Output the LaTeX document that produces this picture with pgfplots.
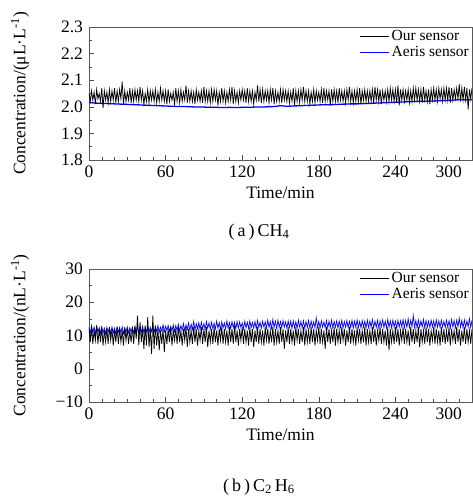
\documentclass[border=0pt]{standalone}
\usepackage{pgfplots}
\usepackage{pgfplotstable}
\pgfplotsset{compat=1.18}
\usepackage{fontspec}
\setmainfont{Liberation Serif}

\pgfplotstableread[row sep=\\]{
x y\\
0 2.05\\ 1 2.02\\ 2 2.06\\ 3 2.025\\ 4 2.055\\ 5 2.01\\ 6 2.065\\ 7 2.03\\ 8 2.05\\ 9 2.02\\
10 2.07\\ 11 1.995\\ 12 2.06\\ 13 2.025\\ 14 2.055\\ 15 2.015\\ 16 2.065\\ 17 2.02\\ 18 2.06\\ 19 2.025\\
20 2.07\\ 21 2.015\\ 22 2.06\\ 23 2.02\\ 24 2.065\\ 25 2.03\\ 26 2.095\\ 27 2.01\\ 28 2.06\\ 29 2.02\\
30 2.055\\ 31 2.025\\ 32 2.07\\ 33 2.015\\ 34 2.06\\ 35 2.02\\ 36 2.065\\ 37 2.025\\ 38 2.06\\ 39 2.02\\
40 2.075\\ 41 2.025\\ 42 2.06\\ 43 2.01\\ 44 2.05\\ 45 2.02\\ 46 2.065\\ 47 2.015\\ 48 2.06\\ 49 2.025\\
50 2.06\\ 51 2.02\\ 52 2.065\\ 53 2.015\\ 54 2.055\\ 55 2.02\\ 56 2.07\\ 57 2.025\\ 58 2.06\\ 59 2.02\\
60 2.06\\ 61 2.01\\ 62 2.065\\ 63 2.02\\ 64 2.05\\ 65 2.025\\ 66 2.055\\ 67 2.005\\ 68 2.07\\ 69 2.02\\
70 2.06\\ 71 2.015\\ 72 2.065\\ 73 2.02\\ 74 2.055\\ 75 2.025\\ 76 2.08\\ 77 2.015\\ 78 2.06\\ 79 2.02\\
80 2.06\\ 81 2.02\\ 82 2.055\\ 83 2.01\\ 84 2.065\\ 85 2.025\\ 86 2.055\\ 87 2.02\\ 88 2.06\\ 89 2.015\\
90 2.075\\ 91 2.02\\ 92 2.06\\ 93 2.02\\ 94 2.06\\ 95 2.015\\ 96 2.065\\ 97 2.02\\ 98 2.065\\ 99 2.025\\
100 2.06\\ 101 2.005\\ 102 2.055\\ 103 2.02\\ 104 2.07\\ 105 2.02\\ 106 2.06\\ 107 2.015\\ 108 2.055\\ 109 2.02\\
110 2.065\\ 111 2.025\\ 112 2.075\\ 113 2.01\\ 114 2.06\\ 115 2.02\\ 116 2.055\\ 117 2.015\\ 118 2.06\\ 119 2.025\\
120 2.065\\ 121 2.025\\ 122 2.06\\ 123 2.015\\ 124 2.07\\ 125 2.02\\ 126 2.06\\ 127 2.02\\ 128 2.06\\ 129 2.01\\
130 2.055\\ 131 2.025\\ 132 2.08\\ 133 2.02\\ 134 2.065\\ 135 2.015\\ 136 2.065\\ 137 2.02\\ 138 2.06\\ 139 2.025\\
140 2.06\\ 141 2.015\\ 142 2.065\\ 143 2.025\\ 144 2.07\\ 145 2.01\\ 146 2.06\\ 147 2.02\\ 148 2.055\\ 149 2.02\\
150 2.065\\ 151 2.015\\ 152 2.065\\ 153 2.025\\ 154 2.06\\ 155 2.02\\ 156 2.06\\ 157 2.015\\ 158 2.055\\ 159 2.02\\
160 2.07\\ 161 2.005\\ 162 2.06\\ 163 2.02\\ 164 2.06\\ 165 2.015\\ 166 2.065\\ 167 2.025\\ 168 2.075\\ 169 2.02\\
170 2.06\\ 171 2.02\\ 172 2.06\\ 173 2.01\\ 174 2.055\\ 175 2.02\\ 176 2.065\\ 177 2.015\\ 178 2.06\\ 179 2.025\\
180 2.055\\ 181 2.02\\ 182 2.065\\ 183 2.015\\ 184 2.07\\ 185 2.02\\ 186 2.06\\ 187 2.025\\ 188 2.06\\ 189 2.005\\
190 2.065\\ 191 2.02\\ 192 2.065\\ 193 2.02\\ 194 2.06\\ 195 2.015\\ 196 2.07\\ 197 2.025\\ 198 2.06\\ 199 2.02\\
200 2.06\\ 201 2.015\\ 202 2.065\\ 203 2.025\\ 204 2.075\\ 205 2.02\\ 206 2.06\\ 207 2.015\\ 208 2.06\\ 209 2.02\\
210 2.065\\ 211 2.02\\ 212 2.07\\ 213 2.01\\ 214 2.06\\ 215 2.025\\ 216 2.065\\ 217 2.02\\ 218 2.06\\ 219 2.02\\
220 2.06\\ 221 2.02\\ 222 2.065\\ 223 2.015\\ 224 2.075\\ 225 2.025\\ 226 2.065\\ 227 2.02\\ 228 2.065\\ 229 2.01\\
230 2.06\\ 231 2.025\\ 232 2.06\\ 233 2.02\\ 234 2.065\\ 235 2.02\\ 236 2.07\\ 237 2.025\\ 238 2.065\\ 239 2.02\\
240 2.065\\ 241 2.015\\ 242 2.08\\ 243 2.005\\ 244 2.065\\ 245 2.025\\ 246 2.065\\ 247 2.02\\ 248 2.06\\ 249 2.025\\
250 2.065\\ 251 2.015\\ 252 2.06\\ 253 2.02\\ 254 2.07\\ 255 2.025\\ 256 2.07\\ 257 2.025\\ 258 2.065\\ 259 2.02\\
260 2.065\\ 261 2.015\\ 262 2.075\\ 263 2.025\\ 264 2.06\\ 265 2.02\\ 266 2.065\\ 267 2.01\\ 268 2.065\\ 269 2.025\\
270 2.07\\ 271 2.025\\ 272 2.065\\ 273 2.02\\ 274 2.07\\ 275 2.03\\ 276 2.065\\ 277 2.02\\ 278 2.07\\ 279 2.025\\
280 2.07\\ 281 2.025\\ 282 2.075\\ 283 2.015\\ 284 2.07\\ 285 2.025\\ 286 2.065\\ 287 2.03\\ 288 2.07\\ 289 2.03\\
290 2.085\\ 291 2.02\\ 292 2.07\\ 293 2.025\\ 294 2.075\\ 295 2.025\\ 296 2.07\\ 297 1.99\\ 298 2.065\\ 299 2.03\\
300 2.07\\
}\chblack

\pgfplotstableread[row sep=\\]{
x y\\
0 2.016\\ 5 2.014\\ 10 2.013\\ 15 2.012\\ 20 2.011\\ 25 2.010\\ 30 2.009\\ 35 2.008\\ 40 2.007\\ 45 2.006\\
50 2.005\\ 55 2.004\\ 60 2.003\\ 65 2.002\\ 70 2.001\\ 75 2.001\\ 80 2.000\\ 85 1.999\\ 90 1.999\\ 95 1.998\\
100 1.998\\ 105 1.997\\ 110 1.998\\ 115 1.997\\ 120 1.998\\ 125 1.998\\ 130 1.999\\ 135 1.999\\ 140 2.000\\ 145 2.001\\
150 2.004\\ 155 2.002\\ 160 2.003\\ 165 2.004\\ 170 2.005\\ 175 2.006\\ 180 2.007\\ 185 2.008\\ 190 2.008\\ 195 2.009\\
200 2.010\\ 205 2.011\\ 210 2.011\\ 215 2.012\\ 220 2.013\\ 225 2.014\\ 230 2.015\\ 235 2.016\\ 240 2.017\\ 245 2.018\\
250 2.019\\ 255 2.020\\ 260 2.021\\ 265 2.021\\ 270 2.022\\ 275 2.023\\ 280 2.024\\ 285 2.025\\ 290 2.027\\ 295 2.026\\
300 2.027\\
}\chblue

\pgfplotstableread[row sep=\\]{
x y\\
0 12\\ 1 8\\ 2 12.5\\ 3 7.5\\ 4 11.5\\ 5 8.5\\ 6 13\\ 7 7.5\\ 8 12\\ 9 8\\
10 12.5\\ 11 7\\ 12 11.5\\ 13 8\\ 14 12\\ 15 7.5\\ 16 12.5\\ 17 8.5\\ 18 12\\ 19 7\\
20 11.5\\ 21 8\\ 22 12.5\\ 23 7.5\\ 24 12\\ 25 8\\ 26 11.5\\ 27 7\\ 28 12.5\\ 29 8.5\\
30 12\\ 31 7.5\\ 32 11.5\\ 33 8\\ 34 12.5\\ 35 7.5\\ 36 13\\ 37 9\\ 38 16\\ 39 7\\
40 14\\ 41 8\\ 42 12\\ 43 6\\ 44 13\\ 45 7\\ 46 15.5\\ 47 6.5\\ 48 12\\ 49 4.5\\
50 16\\ 51 6\\ 52 13\\ 53 7\\ 54 12\\ 55 5.5\\ 56 11.5\\ 57 7.5\\ 58 12\\ 59 5\\
60 11.5\\ 61 7.5\\ 62 12\\ 63 8\\ 64 12.5\\ 65 7\\ 66 11.5\\ 67 8.5\\ 68 12\\ 69 7.5\\
70 12.5\\ 71 8\\ 72 11.5\\ 73 7\\ 74 12\\ 75 8.5\\ 76 12.5\\ 77 6.5\\ 78 12\\ 79 8\\
80 11.5\\ 81 7.5\\ 82 12.5\\ 83 8\\ 84 12\\ 85 7\\ 86 11.5\\ 87 8.5\\ 88 12.5\\ 89 7.5\\
90 12\\ 91 8\\ 92 12.5\\ 93 6.5\\ 94 11.5\\ 95 8\\ 96 12\\ 97 7.5\\ 98 12.5\\ 99 8\\
100 11.5\\ 101 7\\ 102 12\\ 103 8.5\\ 104 12.5\\ 105 7.5\\ 106 12\\ 107 8\\ 108 11.5\\ 109 7\\
110 12.5\\ 111 8\\ 112 12\\ 113 7.5\\ 114 13\\ 115 8\\ 116 11.5\\ 117 7\\ 118 12\\ 119 8.5\\
120 12.5\\ 121 7.5\\ 122 12\\ 123 8\\ 124 11.5\\ 125 7\\ 126 12.5\\ 127 8\\ 128 12\\ 129 6.5\\
130 11.5\\ 131 8\\ 132 12.5\\ 133 7.5\\ 134 12\\ 135 8\\ 136 11.5\\ 137 7\\ 138 12.5\\ 139 8.5\\
140 12\\ 141 7.5\\ 142 11.5\\ 143 8\\ 144 12.5\\ 145 7\\ 146 12\\ 147 8\\ 148 11.5\\ 149 7.5\\
150 12.5\\ 151 8\\ 152 12\\ 153 6\\ 154 11.5\\ 155 8\\ 156 12.5\\ 157 7.5\\ 158 12\\ 159 8\\
160 11.5\\ 161 7\\ 162 12.5\\ 163 8.5\\ 164 12\\ 165 7.5\\ 166 11.5\\ 167 8\\ 168 12.5\\ 169 7\\
170 12\\ 171 8\\ 172 11.5\\ 173 7.5\\ 174 12.5\\ 175 8\\ 176 12\\ 177 7\\ 178 11.5\\ 179 8.5\\
180 12.5\\ 181 7.5\\ 182 12\\ 183 8\\ 184 11.5\\ 185 6\\ 186 12.5\\ 187 8\\ 188 12\\ 189 7.5\\
190 11.5\\ 191 8\\ 192 12.5\\ 193 7\\ 194 12\\ 195 8\\ 196 11.5\\ 197 7.5\\ 198 12.5\\ 199 8.5\\
200 12\\ 201 7\\ 202 11.5\\ 203 8\\ 204 12.5\\ 205 7.5\\ 206 12\\ 207 8\\ 208 11.5\\ 209 7\\
210 12.5\\ 211 8.5\\ 212 12\\ 213 7.5\\ 214 11.5\\ 215 8\\ 216 12.5\\ 217 7\\ 218 12\\ 219 8\\
220 11.5\\ 221 7.5\\ 222 12.5\\ 223 8\\ 224 12\\ 225 7\\ 226 11.5\\ 227 8.5\\ 228 12.5\\ 229 7.5\\
230 12\\ 231 8\\ 232 11.5\\ 233 7\\ 234 12.5\\ 235 5.5\\ 236 12\\ 237 8\\ 238 11.5\\ 239 7.5\\
240 12.5\\ 241 8\\ 242 12\\ 243 7\\ 244 11.5\\ 245 8.5\\ 246 12.5\\ 247 7.5\\ 248 12\\ 249 8\\
250 11.5\\ 251 7\\ 252 12.5\\ 253 8\\ 254 12\\ 255 7.5\\ 256 11.5\\ 257 8\\ 258 12.5\\ 259 6.5\\
260 12\\ 261 8\\ 262 11.5\\ 263 7.5\\ 264 12.5\\ 265 8\\ 266 12\\ 267 7\\ 268 11.5\\ 269 8.5\\
270 12.5\\ 271 7.5\\ 272 12\\ 273 8\\ 274 11.5\\ 275 7\\ 276 12.5\\ 277 8\\ 278 12\\ 279 7.5\\
280 11.5\\ 281 8\\ 282 12.5\\ 283 7\\ 284 12\\ 285 8.5\\ 286 11.5\\ 287 7.5\\ 288 12.5\\ 289 8\\
290 12\\ 291 7\\ 292 11.5\\ 293 8\\ 294 12.5\\ 295 7.5\\ 296 12\\ 297 8\\ 298 11.5\\ 299 7.5\\
300 12\\
}\ethblack

\pgfplotstableread[row sep=\\]{
x y\\
0 12.5\\ 1 10.5\\ 2 13\\ 3 10.8\\ 4 12.5\\ 5 10.5\\ 6 12.8\\ 7 11\\ 8 12.4\\ 9 10.6\\
10 12.6\\ 11 10.8\\ 12 12.2\\ 13 10.5\\ 14 12.5\\ 15 11\\ 16 12.3\\ 17 10.6\\ 18 12.6\\ 19 10.8\\
20 12.2\\ 21 10.5\\ 22 12.5\\ 23 11\\ 24 12.4\\ 25 10.8\\ 26 12.6\\ 27 10.6\\ 28 12.2\\ 29 11\\
30 12.6\\ 31 10.8\\ 32 12.3\\ 33 11\\ 34 12.5\\ 35 10.8\\ 36 12.4\\ 37 11\\ 38 12.6\\ 39 10.8\\
40 12.5\\ 41 11\\ 42 12.8\\ 43 10.8\\ 44 12.4\\ 45 11.2\\ 46 12.6\\ 47 11\\ 48 12.5\\ 49 11.2\\
50 12.8\\ 51 11\\ 52 12.6\\ 53 11.2\\ 54 13\\ 55 11\\ 56 12.5\\ 57 11.4\\ 58 13.2\\ 59 11.2\\
60 12.8\\ 61 11.5\\ 62 13\\ 63 11.2\\ 64 12.8\\ 65 11.4\\ 66 13.2\\ 67 11.2\\ 68 13\\ 69 11.5\\
70 13.4\\ 71 11.2\\ 72 13\\ 73 11.6\\ 74 13.6\\ 75 11.4\\ 76 13.2\\ 77 11.8\\ 78 13.8\\ 79 11.5\\
80 13.4\\ 81 11.8\\ 82 14.2\\ 83 11.6\\ 84 13.6\\ 85 12\\ 86 13.8\\ 87 11.8\\ 88 14\\ 89 12\\
90 13.6\\ 91 11.8\\ 92 14.2\\ 93 12.2\\ 94 13.8\\ 95 11.9\\ 96 14\\ 97 12.1\\ 98 13.7\\ 99 12\\
100 14.3\\ 101 12.2\\ 102 13.9\\ 103 11.8\\ 104 14.1\\ 105 12.3\\ 106 13.8\\ 107 12\\ 108 14.4\\ 109 12.2\\
110 13.9\\ 111 12.1\\ 112 14.2\\ 113 12.4\\ 114 14\\ 115 12\\ 116 14.2\\ 117 12.2\\ 118 14.1\\ 119 12.4\\
120 13.8\\ 121 12\\ 122 14.3\\ 123 12.3\\ 124 14\\ 125 12.1\\ 126 14.4\\ 127 12.4\\ 128 13.9\\ 129 12.2\\
130 14.2\\ 131 12\\ 132 14.5\\ 133 12.4\\ 134 14\\ 135 12.2\\ 136 14.3\\ 137 12.5\\ 138 14.1\\ 139 12.2\\
140 14.6\\ 141 12.4\\ 142 14.2\\ 143 12.1\\ 144 14.8\\ 145 12.4\\ 146 14.3\\ 147 12.2\\ 148 14.6\\ 149 12.5\\
150 14.2\\ 151 12.3\\ 152 14.5\\ 153 12.5\\ 154 14.1\\ 155 12.2\\ 156 14.4\\ 157 12.4\\ 158 14.3\\ 159 12.1\\
160 14.4\\ 161 12.3\\ 162 14.1\\ 163 12.2\\ 164 14.6\\ 165 12.5\\ 166 14.2\\ 167 12.3\\ 168 14.4\\ 169 12.2\\
170 14.2\\ 171 12.4\\ 172 14.5\\ 173 12.2\\ 174 14.3\\ 175 12.5\\ 176 14.1\\ 177 12.3\\ 178 15.3\\ 179 12.4\\
180 14.2\\ 181 12.2\\ 182 14.4\\ 183 12.5\\ 184 14.1\\ 185 12.3\\ 186 14.5\\ 187 12.2\\ 188 14.3\\ 189 12.4\\
190 14.6\\ 191 12.3\\ 192 14.2\\ 193 12.5\\ 194 14.4\\ 195 12.2\\ 196 14.3\\ 197 12.4\\ 198 14.6\\ 199 12.3\\
200 14.2\\ 201 12.5\\ 202 14.5\\ 203 12.3\\ 204 14.2\\ 205 12.4\\ 206 14.6\\ 207 12.2\\ 208 14.3\\ 209 12.5\\
210 14.7\\ 211 12.4\\ 212 14.2\\ 213 12.3\\ 214 14.5\\ 215 12.5\\ 216 14.3\\ 217 12.2\\ 218 14.6\\ 219 12.4\\
220 14.4\\ 221 12.5\\ 222 14.8\\ 223 12.3\\ 224 14.3\\ 225 12.5\\ 226 14.6\\ 227 12.2\\ 228 14.4\\ 229 12.6\\
230 14.7\\ 231 12.4\\ 232 14.3\\ 233 12.3\\ 234 14.8\\ 235 12.5\\ 236 14.4\\ 237 12.3\\ 238 14.6\\ 239 12.5\\
240 14.3\\ 241 12.2\\ 242 14.6\\ 243 12.5\\ 244 14.4\\ 245 12.6\\ 246 14.8\\ 247 12.3\\ 248 14.5\\ 249 12.5\\
250 15\\ 251 12.4\\ 252 14.6\\ 253 12.6\\ 254 16\\ 255 12.4\\ 256 14.5\\ 257 12.3\\ 258 14.7\\ 259 12.5\\
260 14.4\\ 261 12.6\\ 262 14.8\\ 263 12.3\\ 264 14.5\\ 265 12.5\\ 266 14.3\\ 267 12.4\\ 268 14.6\\ 269 12.6\\
270 14.4\\ 271 12.3\\ 272 14.7\\ 273 12.5\\ 274 14.4\\ 275 12.4\\ 276 14.6\\ 277 12.6\\ 278 14.3\\ 279 12.4\\
280 14.6\\ 281 12.5\\ 282 14.4\\ 283 12.3\\ 284 14.8\\ 285 12.5\\ 286 14.5\\ 287 12.4\\ 288 14.6\\ 289 12.6\\
290 15.2\\ 291 12.5\\ 292 14.5\\ 293 12.3\\ 294 14.7\\ 295 12.5\\ 296 14.4\\ 297 12.6\\ 298 15\\ 299 12.4\\
300 14.6\\
}\ethblue

\pgfplotsset{
  common/.style={
    scale only axis, width=383pt, height=133pt,
    anchor=south west,
    xmin=0, xmax=300,
    xtick={0,60,...,300},
    xticklabels={0,60,120,180,240,\llap{300\hspace{10pt}}},
    minor x tick num=5,
    tick pos=left, tick align=inside,
    major tick length=5pt, minor tick length=3pt,
    axis line style={draw=black!65},
    every tick/.style={black!70},
    xlabel={Time/min},
    xlabel style={yshift=3pt},
    ylabel style={at={(axis description cs:-0.18,0.5)}, anchor=center},
    /pgf/number format/assume math mode=true,
    legend style={at={(1,1)}, anchor=north east, draw=none, fill=none,
      font=\fontsize{15.5}{17}\selectfont, inner sep=1pt, row sep=-1pt},
    legend cell align=left,
  }
}

\begin{document}
\fontsize{17.5}{20}\selectfont
\begin{tikzpicture}
\useasboundingbox (0pt,0pt) rectangle (473pt,496pt);

\begin{axis}[common, at={(89pt,336pt)},
  legend image code/.code={\draw[#1] (0pt,0pt) -- (29pt,0pt);},
  ymin=1.8, ymax=2.3, ytick={1.8,1.9,...,2.3},
  yticklabels={1.8,1.9,2.0,2.1,2.2,2.3},
  minor y tick num=1,
  ylabel={Concentration/(μL·L\textsuperscript{-1})}]
\addlegendimage{draw=black, line width=0.8pt}
\addlegendentry{Our sensor}
\addlegendimage{draw=blue, line width=0.8pt}
\addlegendentry{Aeris sensor}
\addplot[blue, line width=1.3pt, forget plot] table[x=x,y=y] {\chblue};
\addplot[black, line width=0.75pt, forget plot] table[x=x,y=y] {\chblack};
\end{axis}

\begin{axis}[common, at={(89pt,94pt)},
  legend image code/.code={\draw[#1] (0pt,0pt) -- (29pt,0pt);},
  ymin=-10, ymax=30, ytick={-10,0,...,30},
  yticklabels={−10,0,10,20,30},
  minor y tick num=1,
  ylabel={Concentration/(nL·L\textsuperscript{-1})}]
\addlegendimage{draw=black, line width=0.8pt}
\addlegendentry{Our sensor}
\addlegendimage{draw=blue, line width=0.8pt}
\addlegendentry{Aeris sensor}
\addplot[blue, line width=0.7pt, forget plot] table[x=x,y=y] {\ethblue};
\addplot[black, line width=0.75pt, forget plot] table[x=x,y=y] {\ethblack};
\end{axis}

\node[font=\fontsize{18}{20}\selectfont] at (259pt,264pt) {(\,a\,)\,CH\textsubscript{4}};
\node[font=\fontsize{18}{20}\selectfont] at (259pt,9pt) {(\,b\,)\,C\textsubscript{2}\,H\textsubscript{6}};
\end{tikzpicture}
\end{document}
